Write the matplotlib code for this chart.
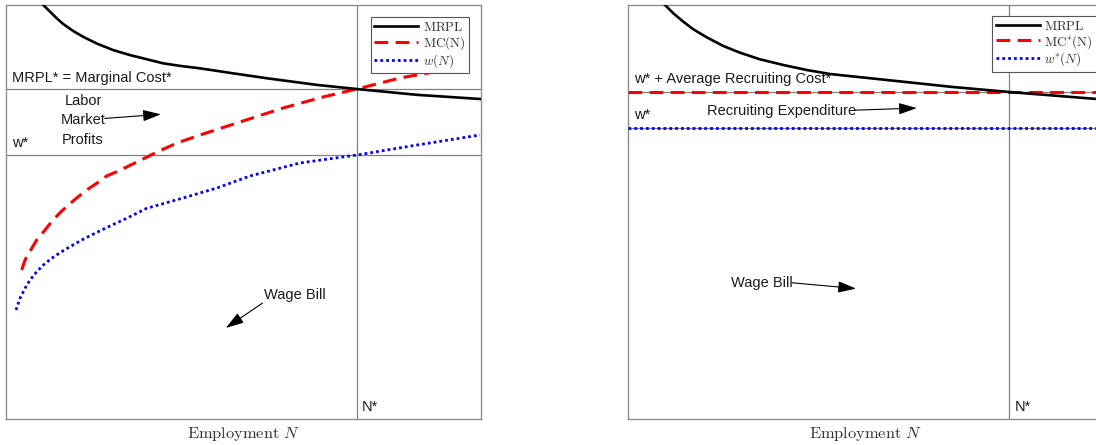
import matplotlib.pyplot as plt

plt.rcParams["font.family"] = "Liberation Sans"
plt.rcParams["mathtext.fontset"] = "cm"

# Panel A: upward-sloping labour supply (monopsony)
mrpl_a_x = [6.74, 7.85, 9.26, 10.67, 12.06, 14.17, 16.27, 19.09, 22.59, 26.11,
            29.62, 33.12, 36.63, 40.84, 47.79, 54.95, 65.47, 73.89, 86.53,
            99.79, 100.2]
mrpl_a_y = [101.6, 100.0, 98.4, 96.8, 95.4, 93.7, 92.3, 90.7, 89.1, 87.9,
            86.9, 85.9, 85.3, 84.7, 83.5, 82.3, 80.7, 79.7, 78.3, 77.3, 77.25]
mc_a_x = [3.31, 4.0, 5.41, 6.46, 8.21, 9.62, 11.37, 13.12, 15.22, 16.99,
          19.09, 21.2, 23.31, 27.58, 31.79, 36.0, 40.84, 49.26, 58.32, 66.74,
          73.89, 82.95, 92.42]
mc_a_y = [35.99, 38.41, 41.23, 43.24, 45.65, 47.66, 49.83, 51.69, 53.70, 55.31,
          56.93, 58.70, 59.73, 62.08, 64.49, 66.67, 68.6, 71.74, 75.12, 77.78,
          79.71, 82.37, 84.3]
w_a_x = [2.11, 2.95, 4.0, 5.05, 6.46, 7.85, 9.62, 11.37, 13.47, 15.94, 18.74,
         21.89, 25.41, 29.62, 37.26, 44.42, 51.37, 61.89, 73.89, 86.53, 99.79]
w_a_y = [26.33, 29.15, 31.57, 33.57, 35.58, 37.2, 38.82, 40.17, 41.62, 43.24,
         44.86, 46.62, 48.48, 50.89, 53.38, 55.8, 58.7, 61.84, 63.77, 66.18,
         68.6]
n_star_a = 73.9
mrpl_star_a = 79.7
w_star_a = 63.8

# Panel B: flat wage plus recruiting cost
mrpl_b_x = [6.32, 7.79, 9.54, 11.64, 13.75, 16.57, 20.06, 23.58, 27.79, 32.69,
            37.62, 42.53, 54.53, 68.42, 80.21, 98.74, 100.0]
mrpl_b_y = [101.6, 100.0, 98.0, 95.97, 94.13, 92.2, 90.1, 88.48, 86.88, 85.51,
            84.3, 83.33, 81.88, 80.19, 78.99, 77.29, 77.1]
mc_b_x = [0.0, 100.0]
mc_b_y = [79.0, 79.0]
w_b_x = [0.0, 100.0]
w_b_y = [70.3, 70.3]
n_star_b = 80.2
cost_star_b = 79.0
w_star_b = 70.3

GRID = "#808080"
TXT = "#1a1a1a"
FS = 10.5
ARROW = dict(arrowstyle="-|>,head_length=1.1,head_width=0.35", color="black",
             lw=0.8, mutation_scale=10, shrinkA=0, shrinkB=0)


def setup(ax):
    ax.set_xlim(0, 100)
    ax.set_ylim(0, 100)
    ax.set_xticks([])
    ax.set_yticks([])
    for s in ax.spines.values():
        s.set_color("#8c8c8c")
        s.set_linewidth(1.0)
    ax.set_xlabel(r"$\mathrm{Employment}\ N$", fontsize=11.8, color="#333333",
                  labelpad=4.5)


def curves(ax, mx, my, cx, cy, wx, wy, labels, anchor):
    ax.plot(mx, my, color="black", lw=1.9, label=labels[0], zorder=4)
    ax.plot(cx, cy, color="#ff0000", lw=2.2, linestyle=(0, (4.5, 2.4)),
            label=labels[1], zorder=3)
    ax.plot(wx, wy, color="#0000ff", lw=2.0, linestyle=(0, (1, 1.1)),
            label=labels[2], zorder=3)
    leg = ax.legend(loc="upper right", bbox_to_anchor=anchor, borderaxespad=0,
                    fontsize=9.5, handlelength=3.3, handletextpad=0.35,
                    labelspacing=0.0, borderpad=0.3, fancybox=False,
                    framealpha=1, edgecolor="#555555")
    leg.get_frame().set_linewidth(0.8)
    for t in leg.get_texts():
        t.set_color("#333333")


fig = plt.figure(figsize=(10.96, 4.45), dpi=100)
ax1 = fig.add_axes([6 / 1096, 26 / 445, 475 / 1096, 414 / 445])
ax2 = fig.add_axes([628 / 1096, 26 / 445, 475 / 1096, 414 / 445])

# left panel
setup(ax1)
ax1.axvline(n_star_a, color=GRID, lw=0.9, zorder=1)
ax1.axhline(mrpl_star_a, color=GRID, lw=0.9, zorder=1)
ax1.axhline(w_star_a, color=GRID, lw=0.9, zorder=1)
curves(ax1, mrpl_a_x, mrpl_a_y, mc_a_x, mc_a_y, w_a_x, w_a_y,
       [r"$\mathrm{MRPL}$", r"$\mathrm{MC(N)}$", r"$w(N)$"], (0.975, 0.971))
ax1.text(1.3, 80.6, "MRPL* = Marginal Cost*", fontsize=FS, color=TXT, va="bottom")
ax1.text(1.3, 65.0, "w*", fontsize=FS, color=TXT, va="bottom")
ax1.text(16.2, 72.2, "Labor\nMarket\nProfits", fontsize=FS, color=TXT,
         ha="center", va="center", multialignment="center", linespacing=1.5)
ax1.annotate("", xy=(32.6, 73.6), xytext=(20.8, 72.6), arrowprops=ARROW)
ax1.text(60.8, 30.0, "Wage Bill", fontsize=FS, color=TXT, ha="center", va="center")
ax1.annotate("", xy=(46.3, 22.0), xytext=(54.0, 28.0), arrowprops=ARROW)
ax1.text(74.9, 1.2, "N*", fontsize=FS, color=TXT, va="bottom")

# right panel
setup(ax2)
ax2.axvline(n_star_b, color=GRID, lw=0.9, zorder=1)
ax2.axhline(cost_star_b, color=GRID, lw=0.9, zorder=1)
ax2.axhline(w_star_b, color=GRID, lw=0.9, zorder=1)
curves(ax2, mrpl_b_x, mrpl_b_y, mc_b_x, mc_b_y, w_b_x, w_b_y,
       [r"$\mathrm{MRPL}$", r"$\mathrm{MC^{*}(N)}$", r"$w^{*}(N)$"], (0.987, 0.974))
ax2.text(1.3, 80.4, "w* + Average Recruiting Cost*", fontsize=FS, color=TXT,
         va="bottom")
ax2.text(1.3, 71.7, "w*", fontsize=FS, color=TXT, va="bottom")
ax2.text(16.6, 74.4, "Recruiting Expenditure", fontsize=FS, color=TXT, va="center")
ax2.annotate("", xy=(60.8, 75.1), xytext=(47.8, 74.6), arrowprops=ARROW)
ax2.text(21.7, 32.9, "Wage Bill", fontsize=FS, color=TXT, va="center")
ax2.annotate("", xy=(48.0, 31.5), xytext=(34.6, 32.9), arrowprops=ARROW)
ax2.text(81.5, 1.2, "N*", fontsize=FS, color=TXT, va="bottom")

fig.savefig("out.png", dpi=100)
